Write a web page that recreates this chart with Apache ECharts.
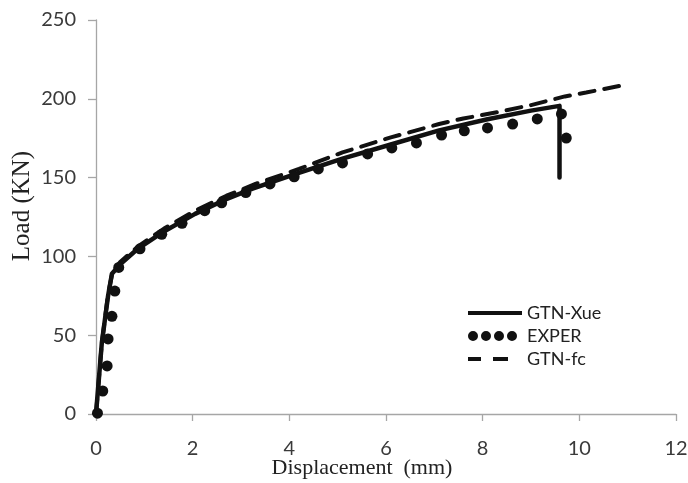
<!DOCTYPE html>
<html>
<head>
<meta charset="utf-8">
<script src="https://cdn.jsdelivr.net/npm/echarts@6/dist/echarts.min.js"></script>
<style>
  html, body { margin: 0; padding: 0; background: #fff; }
  #chart { width: 688px; height: 483px; }
</style>
</head>
<body>
<div id="chart"></div>
<script>
// ---- data ----
const xTicks = [0, 2, 4, 6, 8, 10, 12];
const yTicks = [0, 50, 100, 150, 200, 250];

const xueX = [0, 0.12, 0.25, 0.33, 0.5, 0.87, 1.36, 2.05, 2.67, 3.24, 4.15, 5.1, 6.1, 7.1, 8.1, 9.0, 9.59, 9.59];
const xueY = [0, 45, 75, 89, 95, 105, 115, 127, 136, 143, 152.5, 162, 171, 180, 187, 192.5, 195.5, 150];

const experX = [0.03, 0.14, 0.23, 0.25, 0.33, 0.39, 0.47, 0.91, 1.36, 1.78, 2.25, 2.6, 3.1, 3.6, 4.1, 4.6, 5.1, 5.62, 6.12, 6.63, 7.15, 7.62, 8.1, 8.62, 9.13, 9.63, 9.73];
const experY = [0.5, 14.6, 30.5, 47.6, 62, 78, 93, 104.8, 114, 121, 129, 134, 140.5, 146, 150.5, 155.5, 159.3, 165, 168.8, 172, 177, 179.7, 181.5, 184, 187.2, 190.4, 175.1];

const fcX = [0, 0.12, 0.25, 0.34, 0.5, 0.9, 1.4, 2.05, 2.7, 3.3, 4.2, 5.1, 6.1, 7.1, 7.6, 8.3, 9.0, 9.7, 10.14, 10.97];
const fcY = [0, 45, 76, 90, 96.5, 107, 117.5, 129, 138.5, 146, 155.5, 166, 175.5, 184, 187.5, 191.5, 196, 201.5, 204, 209];

const seriesNames = ['GTN-Xue', 'EXPER', 'GTN-fc'];

const pairs = (xs, ys) => xs.map((x, i) => [x, ys[i]]);

// legend icons (54 x 10 box)
const box = 'M0,0L0,0Z M54,10L54,10Z ';
const circ = cx => `M${cx - 5},5A5,5 0 1 1 ${cx + 5},5A5,5 0 1 1 ${cx - 5},5Z `;
const iconSolid = 'path://' + box + 'M0,3L54,3L54,7L0,7Z';
const iconDots = 'path://' + box + circ(5) + circ(18) + circ(31) + circ(44);
const iconDash = 'path://' + box + 'M0,3L13,3L13,7L0,7Z M25,3L40,3L40,7L25,7Z';

const axisGray = '#a6a6a6';
const labelColor = '#3a3a3a';

const chart = echarts.init(document.getElementById('chart'), null, { renderer: 'canvas' });
chart.setOption({
  animation: false,
  backgroundColor: '#ffffff',
  grid: { left: 96, right: 12, top: 20, bottom: 69, containLabel: false, outerBoundsMode: 'none' },
  legend: {
    orient: 'vertical',
    left: 468,
    top: 304,
    padding: 0,
    itemWidth: 54,
    itemHeight: 10,
    itemGap: 5,
    textStyle: { fontFamily: 'Lato', fontSize: 18, color: '#222' },
    data: [
      { name: seriesNames[0], icon: iconSolid },
      { name: seriesNames[1], icon: iconDots },
      { name: seriesNames[2], icon: iconDash }
    ]
  },
  xAxis: {
    type: 'value',
    min: xTicks[0],
    max: xTicks[xTicks.length - 1],
    interval: 2,
    name: 'Displacement  (mm)',
    nameLocation: 'middle',
    nameGap: 43,
    nameMoveOverlap: false,
    nameTextStyle: { fontFamily: 'Liberation Serif', fontSize: 22, color: '#222', padding: [0, 48, 0, 0] },
    axisLine: { show: true, lineStyle: { color: axisGray, width: 1.3 } },
    axisTick: { show: true, inside: false, length: 7, lineStyle: { color: axisGray, width: 1.3 } },
    axisLabel: { fontFamily: 'Lato', fontSize: 20, color: labelColor, margin: 25 },
    splitLine: { show: false }
  },
  yAxis: {
    type: 'value',
    min: yTicks[0],
    max: yTicks[yTicks.length - 1],
    interval: 50,
    name: 'Load (KN)',
    nameLocation: 'middle',
    nameGap: 61,
    nameMoveOverlap: false,
    nameTextStyle: { fontFamily: 'Liberation Serif', fontSize: 25, color: '#222', padding: [0, 0, 0, 22] },
    axisLine: { show: true, lineStyle: { color: axisGray, width: 1.3 } },
    axisTick: { show: true, inside: false, length: 8, lineStyle: { color: axisGray, width: 1.3 } },
    axisLabel: { fontFamily: 'Lato', fontSize: 20, color: labelColor, margin: 20 },
    splitLine: { show: false }
  },
  series: [
    {
      name: seriesNames[0],
      type: 'line',
      data: pairs(xueX, xueY),
      symbol: 'none',
      smooth: false,
      lineStyle: { color: '#111', width: 4.5, cap: 'round', join: 'round' },
      itemStyle: { color: '#111' },
      z: 3
    },
    {
      name: seriesNames[1],
      type: 'scatter',
      data: pairs(experX, experY),
      symbol: 'circle',
      symbolSize: 11,
      itemStyle: { color: '#111', opacity: 1 },
      z: 4
    },
    {
      name: seriesNames[2],
      type: 'line',
      data: pairs(fcX, fcY),
      symbol: 'none',
      smooth: false,
      lineStyle: { color: '#111', width: 4, type: [15, 10], cap: 'round' },
      itemStyle: { color: '#111' },
      z: 2
    }
  ]
});
</script>
</body>
</html>
